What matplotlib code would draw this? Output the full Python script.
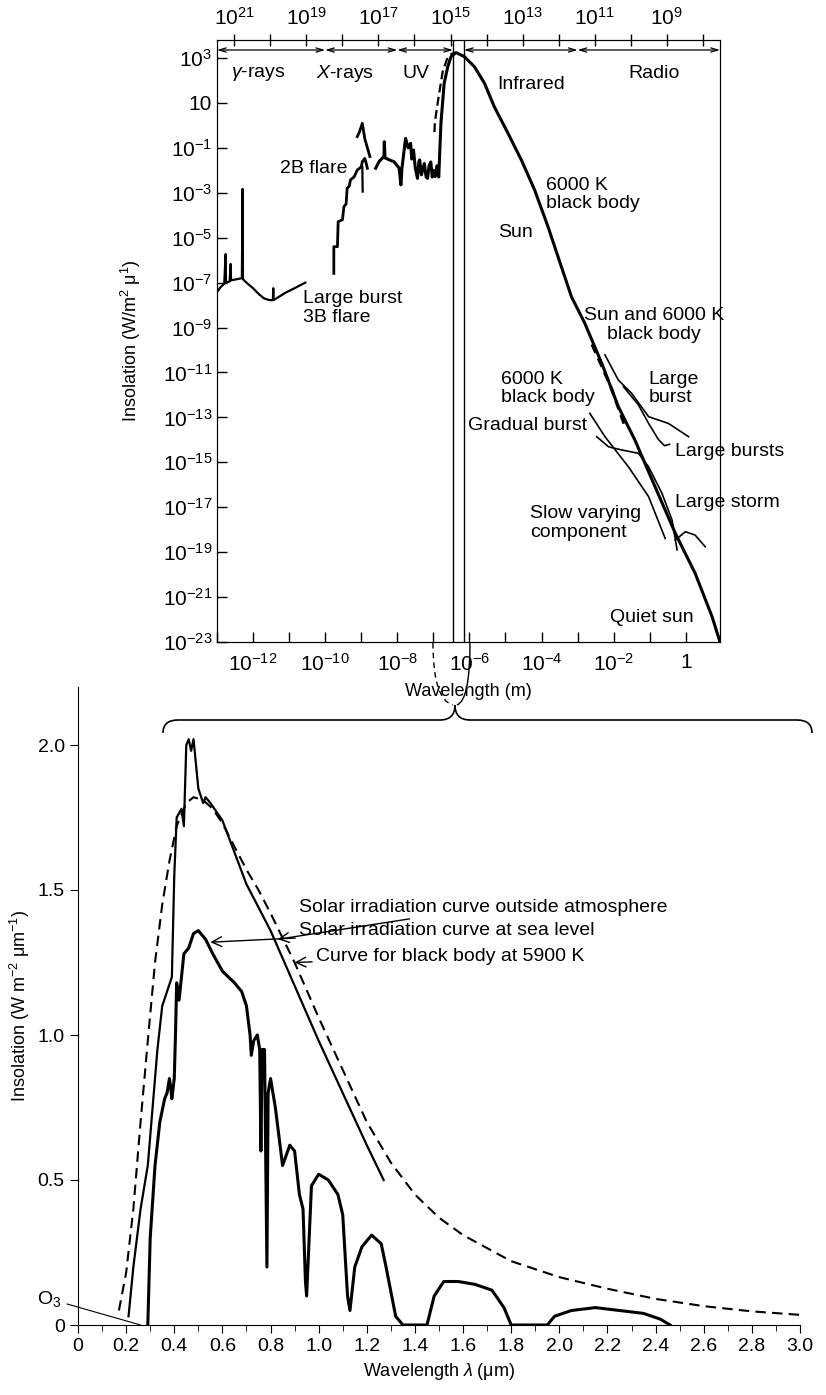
import numpy as np
import matplotlib.pyplot as plt
from matplotlib.path import Path
from matplotlib.patches import PathPatch
from matplotlib.ticker import FixedLocator, FixedFormatter, NullLocator

plt.rcParams['font.family'] = ['Liberation Sans', 'DejaVu Sans']
plt.rcParams['mathtext.fontset'] = 'custom'
plt.rcParams['mathtext.rm'] = 'Liberation Sans'
plt.rcParams['mathtext.it'] = 'Liberation Sans:italic'

# ---------------- top panel data (log10 wavelength [m], log10 insolation) -------------
gam_x = [-13.0, -12.9, -12.8, -12.76, -12.75, -12.65, -12.62, -12.61, -12.45, -12.31, -12.29, -12.28,
         -12.15, -12.0, -11.85, -11.7, -11.55, -11.45, -11.44, -11.43, -11.3, -11.1, -10.85, -10.55]
gam_y = [-7.42, -7.2, -7.05, -5.73, -7.0, -6.95, -6.17, -6.9, -6.85, -6.8, -2.83, -6.85,
         -7.05, -7.25, -7.5, -7.7, -7.78, -7.78, -7.25, -7.78, -7.65, -7.45, -7.25, -7.0]

flare_x = [-9.76, -9.76, -9.66, -9.64, -9.52, -9.48, -9.42, -9.39, -9.33, -9.3, -9.2, -9.11,
           -9.0, -8.97, -8.9, -8.86, -8.83]
flare_y = [-6.59, -5.40, -5.40, -4.29, -4.2, -3.62, -3.5, -2.80, -2.7, -2.43, -2.3, -1.99,
           -1.85, -1.62, -1.47, -1.7, -1.91]
flare_b_x = [-8.97, -8.96]
flare_b_y = [-1.85, -2.95]
flare_up_x = [-9.11, -9.05, -8.97, -8.9, -8.76]
flare_up_y = [-0.5, -0.3, 0.09, -0.6, -1.39]

# UV part joined to the solar curve
sun_x = [-8.6, -8.5, -8.37, -8.36, -8.34, -8.2, -8.09, -7.95, -7.9, -7.87, -7.77, -7.7, -7.63,
         -7.6, -7.55, -7.5, -7.44, -7.4, -7.38, -7.33, -7.3, -7.25, -7.2, -7.16, -7.12, -7.07,
         -7.03, -7.0, -6.95, -6.9, -6.85, -6.79, -6.70, -6.60, -6.51, -6.37, -6.14, -5.86,
         -5.58, -5.31, -4.93, -4.56, -4.19, -3.82, -3.45, -3.17, -2.80, -2.33, -1.87, -1.41,
         -0.85, -0.29, 0.26, 0.73, 0.95]
sun_y = [-1.91, -1.6, -1.39, -0.73, -1.45, -1.55, -1.62, -1.9, -2.65, -1.9, -0.58, -1.0, -0.8,
         -1.5, -1.1, -1.9, -2.36, -1.6, -1.54, -2.2, -2.0, -1.7, -2.3, -2.36, -1.8, -1.63,
         -2.3, -2.0, -2.28, -1.8, -2.3, 0.09, 1.87, 2.61, 3.06, 3.24, 3.06, 2.61,
         1.87, 0.83, -0.35, -1.54, -2.88, -4.51, -6.29, -7.63, -8.81, -10.59, -12.52, -14.01,
         -16.09, -18.16, -19.94, -21.87, -23.0]

bb_uv_x = [-6.97, -6.96, -6.88, -6.82, -6.74, -6.62, -6.5, -6.4]
bb_uv_y = [-0.3, 0.1, 1.0, 1.6, 2.4, 2.95, 3.18, 3.24]
bb_rj_x = [-2.6, -2.1, -1.68]
bb_rj_y = [-9.75, -11.55, -13.42]

lb_x = [-2.24, -1.87, -1.50, -1.03, -0.48, 0.08]
lb_y = [-10.22, -11.34, -11.93, -12.97, -13.27, -13.86]
lbs_x = [-1.73, -1.31, -1.03, -0.76, -0.59, -0.45]
lbs_y = [-11.63, -12.45, -13.27, -13.98, -14.26, -14.2]
grad_x = [-2.47, -2.14, -1.78, -1.31, -1.03, -0.66, -0.38, -0.24]
grad_y = [-13.86, -14.31, -14.45, -14.60, -15.2, -16.38, -17.57, -18.9]
slow_x = [-2.66, -2.24, -1.59, -1.03, -0.57]
slow_y = [-12.82, -13.86, -15.2, -16.53, -18.39]
storm_x = [-0.29, -0.01, 0.26, 0.54]
storm_y = [-18.46, -18.09, -18.24, -18.76]

# ---------------- bottom panel data (wavelength um, W m-2 um-1) ----------------
bb_x = [0.17, 0.20, 0.23, 0.26, 0.29, 0.32, 0.35, 0.38, 0.41, 0.45, 0.48, 0.52, 0.56, 0.60,
        0.65, 0.70, 0.75, 0.80, 0.90, 1.0, 1.1, 1.2, 1.3, 1.4, 1.5, 1.6, 1.8, 2.0, 2.2, 2.4,
        2.6, 2.8, 3.0]
bb_y = [0.05, 0.18, 0.4, 0.7, 0.98, 1.25, 1.45, 1.6, 1.72, 1.8, 1.82, 1.81, 1.78, 1.73,
        1.65, 1.57, 1.5, 1.42, 1.25, 1.06, 0.88, 0.7, 0.56, 0.45, 0.37, 0.31, 0.22, 0.165,
        0.125, 0.09, 0.065, 0.047, 0.035]
out_x = [0.21, 0.23, 0.26, 0.29, 0.31, 0.33, 0.35, 0.37, 0.39, 0.40, 0.41, 0.43, 0.44, 0.45,
         0.46, 0.47, 0.48, 0.50, 0.52, 0.53, 0.55, 0.60, 0.65, 0.70, 0.80, 0.90, 1.0, 1.1,
         1.2, 1.27]
out_y = [0.03, 0.2, 0.4, 0.55, 0.75, 0.95, 1.1, 1.15, 1.2, 1.55, 1.75, 1.78, 1.72, 2.0,
         2.02, 1.98, 2.02, 1.85, 1.8, 1.82, 1.8, 1.74, 1.63, 1.52, 1.36, 1.17, 0.98, 0.8,
         0.62, 0.5]
sea_x = [0.29, 0.30, 0.32, 0.34, 0.36, 0.37, 0.38, 0.385, 0.39, 0.40, 0.405, 0.41, 0.42, 0.43,
         0.44, 0.46, 0.48, 0.50, 0.53, 0.56, 0.60, 0.65, 0.68, 0.70, 0.715, 0.72, 0.73, 0.745,
         0.755, 0.76, 0.765, 0.775, 0.785, 0.79, 0.80, 0.82, 0.85, 0.88, 0.90, 0.92, 0.935,
         0.945, 0.95, 0.97, 1.0, 1.04, 1.08, 1.10, 1.12, 1.13, 1.15, 1.18, 1.22, 1.26, 1.28,
         1.32, 1.35, 1.45, 1.48, 1.52, 1.58, 1.65, 1.72, 1.77, 1.80, 1.95, 1.98, 2.05, 2.15,
         2.25, 2.35, 2.42, 2.46]
sea_y = [0.0, 0.3, 0.55, 0.7, 0.78, 0.8, 0.85, 0.82, 0.78, 0.85, 1.0, 1.18, 1.12, 1.2,
         1.28, 1.3, 1.35, 1.36, 1.33, 1.28, 1.22, 1.18, 1.15, 1.1, 1.0, 0.93, 0.98, 1.0,
         0.95, 0.6, 0.95, 0.95, 0.2, 0.8, 0.85, 0.75, 0.55, 0.62, 0.6, 0.45, 0.4,
         0.15, 0.1, 0.48, 0.52, 0.5, 0.45, 0.38, 0.1, 0.05, 0.2, 0.27, 0.31, 0.28, 0.2,
         0.03, 0.0, 0.0, 0.1, 0.15, 0.15, 0.14, 0.12, 0.06, 0.0, 0.0, 0.03, 0.05, 0.06,
         0.05, 0.04, 0.02, 0.0]

fig = plt.figure(figsize=(8.26, 13.95), dpi=100)
W, H = 826, 1395

def box(l, t, r, b):
    return [l / W, 1 - b / H, (r - l) / W, (b - t) / H]

# ============ top panel ============
ax = fig.add_axes(box(217, 40, 720, 642))
ax.set_xscale('log')
ax.set_yscale('log')
ax.set_xlim(1e-13, 10 ** 0.95)
ax.set_ylim(1e-23, 10 ** 3.8)
p = lambda xs: 10.0 ** np.array(xs)

ax.plot(p(gam_x), p(gam_y), color='black', lw=1.6)
ax.plot(p(flare_x), p(flare_y), color='black', lw=2.0)
ax.plot(p(flare_b_x), p(flare_b_y), color='black', lw=1.6)
ax.plot(p(flare_up_x), p(flare_up_y), color='black', lw=2.0)
ax.plot(p(sun_x), p(sun_y), color='black', lw=2.2)
ax.plot(p(bb_uv_x), p(bb_uv_y), color='black', lw=1.6, ls=(0, (4, 2)))
ax.plot(p(bb_rj_x), p(bb_rj_y), color='black', lw=2.2, ls=(0, (3, 2)))
for xs, ys in [(lb_x, lb_y), (lbs_x, lbs_y), (grad_x, grad_y), (slow_x, slow_y), (storm_x, storm_y)]:
    ax.plot(p(xs), p(ys), color='black', lw=1.2)

# visible band
for v in [3.5e-7, 7.1e-7]:
    ax.axvline(v, color='black', lw=1.0)

# spectral region arrows
ytop = 1 - 10 / 602
regions = [(1e-13, 1e-10), (1e-10, 1e-8), (1e-8, 3.5e-7), (7.1e-7, 1e-3), (1e-3, 10 ** 0.95)]
for a, b in regions:
    ax.annotate('', xy=(b, ytop), xytext=(a, ytop), xycoords=('data', 'axes fraction'),
                arrowprops=dict(arrowstyle='<->, head_length=0.5, head_width=0.15', lw=0.9,
                                color='black', shrinkA=0, shrinkB=0))

fs = 14
for txt, lx, ly in [(r'$\gamma$-rays', -11.86, 2.3), (r'$X$-rays', -9.44, 2.3),
                    ('UV', -7.49, 2.3), ('Radio', -0.89, 2.3), ('Infrared', -4.28, 1.8)]:
    ax.text(10 ** lx, 10 ** ly, txt, fontsize=fs, ha='center', va='center')

ax.text(10 ** -9.38, 10 ** -1.9, '2B flare', fontsize=fs, ha='right', va='center')
ax.text(10 ** -10.61, 10 ** -8.13, 'Large burst\n3B flare', fontsize=fs, ha='left', va='center', linespacing=1.1)
ax.text(10 ** -3.87, 10 ** -3.08, '6000 K\nblack body', fontsize=fs, ha='left', va='center', linespacing=1.1)
ax.text(10 ** -5.2, 10 ** -4.79, 'Sun', fontsize=fs, ha='left', va='center')
ax.text(10 ** -0.89, 10 ** -8.89, 'Sun and 6000 K\nblack body', fontsize=fs, ha='center', va='center', linespacing=1.1)
ax.text(10 ** -5.12, 10 ** -11.71, '6000 K\nblack body', fontsize=fs, ha='left', va='center', linespacing=1.1)
ax.text(10 ** -6.04, 10 ** -13.38, 'Gradual burst', fontsize=fs, ha='left', va='center')
ax.text(10 ** -1.03, 10 ** -11.71, 'Large\nburst', fontsize=fs, ha='left', va='center', linespacing=1.1)
ax.text(10 ** -0.30, 10 ** -14.54, 'Large bursts', fontsize=fs, ha='left', va='center')
ax.text(10 ** -0.30, 10 ** -16.81, 'Large storm', fontsize=fs, ha='left', va='center')
ax.text(10 ** -4.31, 10 ** -17.7, 'Slow varying\ncomponent', fontsize=fs, ha='left', va='center', linespacing=1.1)
ax.text(10 ** -2.11, 10 ** -21.89, 'Quiet sun', fontsize=fs, ha='left', va='center')

# axis ticks
xt_exp = list(range(-13, 1))
ax.xaxis.set_major_locator(FixedLocator([10.0 ** k for k in xt_exp]))
ax.xaxis.set_major_formatter(FixedFormatter(
    ['1' if k == 0 else (r'$10^{%d}$' % k if k % 2 == 0 else '') for k in xt_exp]))
ax.xaxis.set_minor_locator(NullLocator())
yt_exp = list(range(-23, 4, 2))
ax.yaxis.set_major_locator(FixedLocator([10.0 ** k for k in yt_exp]))
ax.yaxis.set_major_formatter(FixedFormatter(['10' if k == 1 else r'$10^{%d}$' % k for k in yt_exp]))
ax.yaxis.set_minor_locator(NullLocator())
ax.tick_params(direction='in', length=7, width=1, labelsize=15)
ax.tick_params(axis='x', pad=8)
ax.set_xlabel('Wavelength (m)', fontsize=13, labelpad=6)
ax.set_ylabel('Insolation (W/m$^2$ μ$^1$)', fontsize=13, labelpad=14)

axt = ax.twiny()
axt.set_xscale('log')
axt.set_xlim(3e8 / 1e-13, 3e8 / 10 ** 0.95)
ft_exp = list(range(8, 22))
axt.xaxis.set_major_locator(FixedLocator([10.0 ** k for k in ft_exp]))
axt.xaxis.set_major_formatter(FixedFormatter([r'$10^{%d}$' % k if k % 2 == 1 else '' for k in ft_exp]))
axt.xaxis.set_minor_locator(NullLocator())
axt.tick_params(direction='inout', length=8, width=1, labelsize=15, pad=4)

# ============ bottom panel ============
bx = fig.add_axes(box(78, 687, 800, 1325))
bx.patch.set_alpha(0)
bx.plot(bb_x, bb_y, color='black', lw=1.5, ls=(0, (5, 3)))
bx.plot(out_x, out_y, color='black', lw=1.6)
bx.plot(sea_x, sea_y, color='black', lw=2.2)
bx.set_xlim(0, 3.0)
bx.set_ylim(0, 2.2)
bx.spines['top'].set_visible(False)
bx.spines['right'].set_visible(False)
bx.set_xticks(np.arange(0, 3.01, 0.2))
bx.set_xticklabels(['0'] + ['%.1f' % v for v in np.arange(0.2, 3.01, 0.2)])
bx.set_xticks(np.arange(0, 3.01, 0.1), minor=True)
bx.set_yticks([0, 0.5, 1.0, 1.5, 2.0])
bx.set_yticklabels(['0', '0.5', '1.0', '1.5', '2.0'])
bx.tick_params(labelsize=14, length=6)
bx.tick_params(which='minor', length=4)
bx.set_xlabel(r'Wavelength $\lambda$ (μm)', fontsize=13)
bx.set_ylabel('Insolation (W m$^{-2}$ μm$^{-1}$)', fontsize=13)

arr = dict(arrowstyle='->, head_length=0.5, head_width=0.25', lw=1, color='black', shrinkA=1, shrinkB=0)
bx.annotate('Solar irradiation curve outside atmosphere', xy=(0.83, 1.33), xytext=(0.92, 1.44),
            fontsize=14, va='center', arrowprops=arr)
bx.annotate('Solar irradiation curve at sea level', xy=(0.55, 1.32), xytext=(0.92, 1.36),
            fontsize=14, va='center', arrowprops=arr)
bx.annotate('Curve for black body at 5900 K', xy=(0.9, 1.25), xytext=(0.99, 1.27),
            fontsize=14, va='center', arrowprops=arr)
bx.annotate('O$_3$', xy=(0.26, 0.0), xytext=(-0.17, 0.09), fontsize=14, va='center',
            annotation_clip=False,
            arrowprops=dict(arrowstyle='-', lw=0.8, color='black', shrinkA=2, shrinkB=0))

# ============ brace & connectors (figure pixels) ============
ov = fig.add_axes([0, 0, 1, 1])
ov.set_xlim(0, W)
ov.set_ylim(H, 0)
ov.axis('off')
ov.patch.set_alpha(0)
yb = 720
verts = [(163, 733), (163, yb), (178, yb), (440, yb), (455, yb), (455, 705),
         (455, yb), (470, yb), (797, yb), (812, yb), (812, 733)]
codes = [Path.MOVETO, Path.CURVE3, Path.CURVE3, Path.LINETO, Path.CURVE3, Path.CURVE3,
         Path.CURVE3, Path.CURVE3, Path.LINETO, Path.CURVE3, Path.CURVE3]
ov.add_patch(PathPatch(Path(verts, codes), fill=False, lw=1.2, color='black'))
ov.add_patch(PathPatch(Path([(433, 643), (433, 700), (453, 705)],
                            [Path.MOVETO, Path.CURVE3, Path.CURVE3]),
                       fill=False, lw=1, color='black', ls=(0, (4, 3))))
ov.add_patch(PathPatch(Path([(470, 643), (470, 700), (457, 705)],
                            [Path.MOVETO, Path.CURVE3, Path.CURVE3]),
                       fill=False, lw=1, color='black'))

fig.savefig('out.png', dpi=100)
